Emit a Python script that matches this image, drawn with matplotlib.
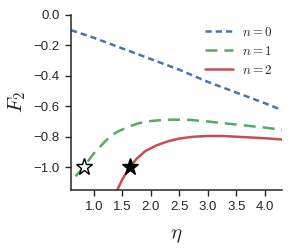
import matplotlib
matplotlib.use("Agg")
import matplotlib.pyplot as plt
import seaborn as sns

# values
eta_n0 = [0.6, 1.0, 1.5, 2.0, 2.5, 3.0, 3.5, 4.0, 4.3]
f2_n0 = [-0.10, -0.15, -0.22, -0.29, -0.36, -0.44, -0.51, -0.58, -0.625]

eta_n1 = [0.68, 0.75, 0.82, 0.9, 1.0, 1.1, 1.2, 1.3, 1.4, 1.6, 1.8, 2.0,
          2.2, 2.4, 2.7, 3.0, 3.5, 4.0, 4.3]
f2_n1 = [-1.06, -1.03, -1.0, -0.96, -0.91, -0.87, -0.83, -0.795, -0.77,
         -0.735, -0.71, -0.697, -0.69, -0.688, -0.69, -0.70, -0.72, -0.74,
         -0.755]

eta_n2 = [1.41, 1.5, 1.63, 1.75, 1.9, 2.1, 2.3, 2.5, 2.75, 3.0, 3.25, 3.5,
          3.75, 4.0, 4.3]
f2_n2 = [-1.15, -1.08, -1.0, -0.945, -0.895, -0.857, -0.83, -0.812, -0.80,
         -0.795, -0.795, -0.80, -0.805, -0.81, -0.818]

star_open = (0.82, -1.0)
star_filled = (1.63, -1.0)

labels = [r"$n=0$", r"$n=1$", r"$n=2$"]
xticks = [1.0, 1.5, 2.0, 2.5, 3.0, 3.5, 4.0]
yticks = [0.0, -0.2, -0.4, -0.6, -0.8, -1.0]

sns.set_style("ticks")
plt.rcParams["font.family"] = ["Liberation Sans", "DejaVu Sans"]
plt.rcParams["mathtext.fontset"] = "cm"

# old seaborn "deep" colours
blue, green, red = "#4C72B0", "#55A868", "#C44E52"

fig = plt.figure(figsize=(2.91, 2.49), dpi=100)
ax = fig.add_axes([0.244, 0.237, 0.725, 0.703])

ax.plot(eta_n0, f2_n0, color=blue, lw=1.8, dashes=(2.5, 1.6), label=labels[0])
ax.plot(eta_n1, f2_n1, color=green, lw=1.8, dashes=(4.8, 2.8), label=labels[1])
ax.plot(eta_n2, f2_n2, color=red, lw=1.8, label=labels[2])

ax.plot(*star_open, marker="*", ms=12.5, mfc="white", mec="black", mew=1.0,
        ls="none")
ax.plot(*star_filled, marker="*", ms=12.5, color="black", ls="none")

ax.set_xlim(0.6, 4.3)
ax.set_ylim(-1.15, 0.0)
ax.set_xticks(xticks)
ax.set_yticks(yticks)
ax.set_xticklabels([f"{t:.1f}" for t in xticks])
ax.set_yticklabels([f"{t:.1f}".replace("-", "\u2212") for t in yticks])
ax.tick_params(labelsize=9.5, length=4, width=1.0, pad=4, color="#262626",
               labelcolor="#262626")
for s in ax.spines.values():
    s.set_linewidth(1.1)
    s.set_color("#262626")
sns.despine(ax=ax)

ax.set_xlabel(r"$\eta$", fontsize=15, labelpad=9)
ax.set_ylabel(r"$F_2$", fontsize=15, labelpad=4)

ax.legend(loc="upper right", fontsize=9.5, frameon=False, handlelength=2.1,
          handletextpad=0.7, borderaxespad=0.3, labelspacing=0.45,
          bbox_to_anchor=(1.0, 0.99))

fig.savefig("out.png", dpi=100)
